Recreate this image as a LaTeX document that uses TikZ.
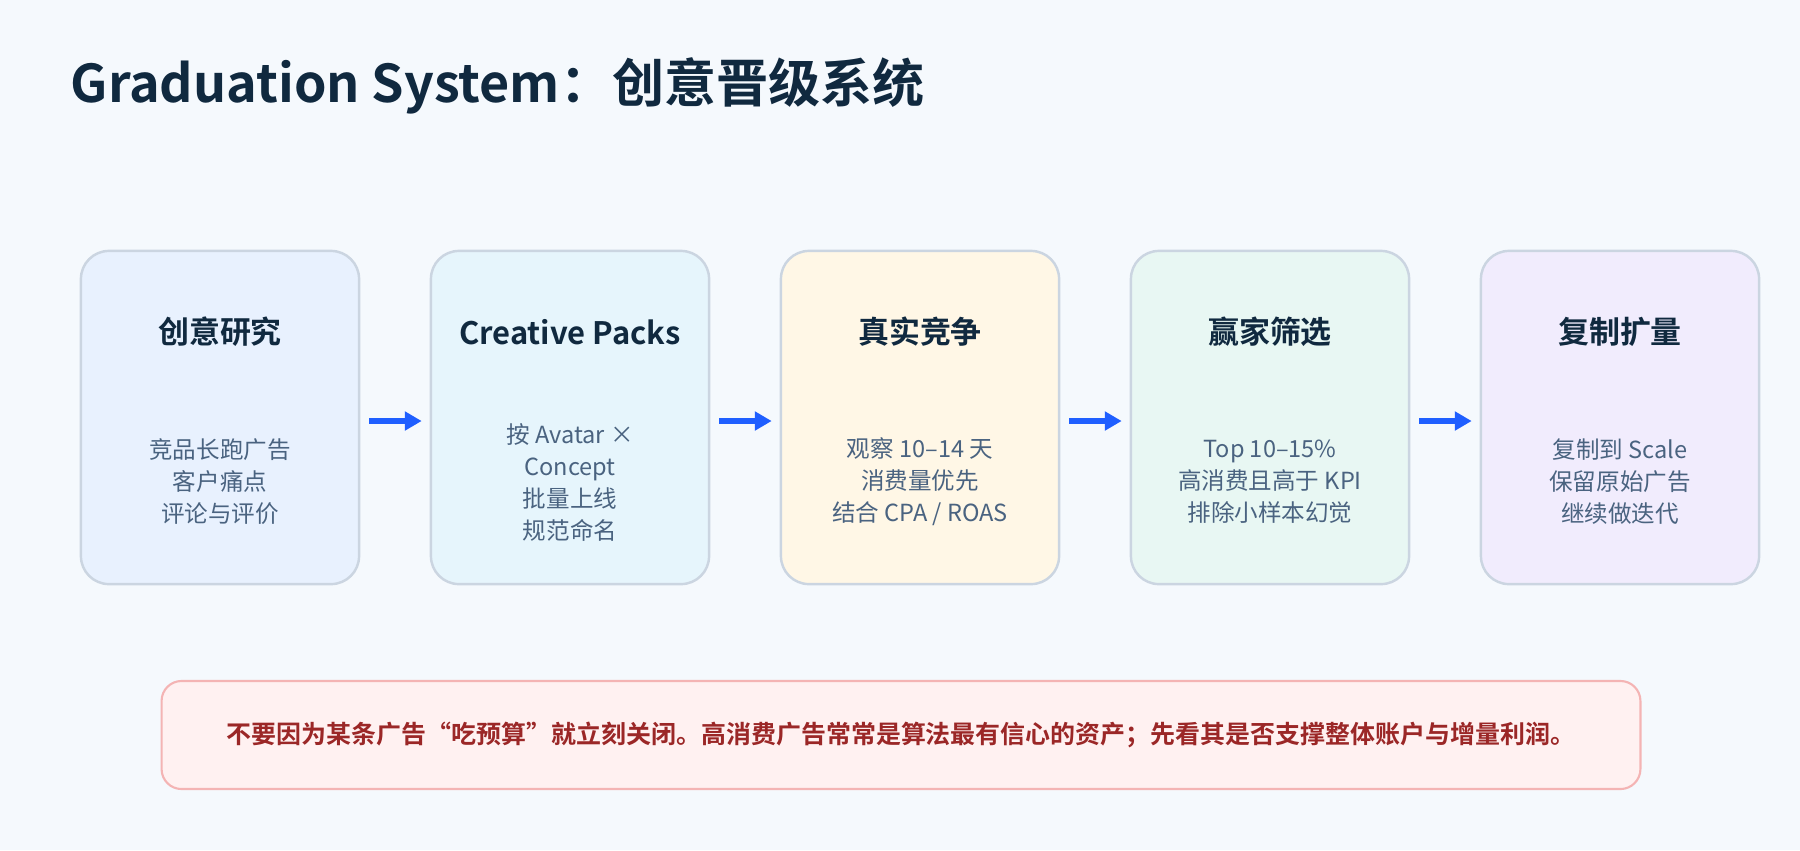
\documentclass[tikz,border=0pt]{standalone}
\usepackage{fontspec}
\setmainfont{Noto Sans CJK SC}[BoldFont={Noto Sans CJK SC Bold}]
\usetikzlibrary{arrows.meta, positioning, calc}
\definecolor{pagebg}{HTML}{F5F9FD}
\definecolor{inkdark}{HTML}{10293F}
\definecolor{inkbody}{HTML}{4A6380}
\definecolor{boxline}{HTML}{CBD5E1}
\definecolor{flowblue}{HTML}{1F5FFF}
\definecolor{fillresearch}{HTML}{E8F1FE}
\definecolor{fillpacks}{HTML}{E6F5FC}
\definecolor{fillcompete}{HTML}{FFF7E6}
\definecolor{fillwinner}{HTML}{E8F7F3}
\definecolor{fillscale}{HTML}{F1ECFD}
\definecolor{notefill}{HTML}{FFF1F1}
\definecolor{noteline}{HTML}{F4B4B4}
\definecolor{notetext}{HTML}{9B2727}
\tikzset{
    step_box/.style={
        draw=boxline,
        line width=0.7pt,
        minimum width=2.78cm,
        minimum height=3.33cm,
        inner sep=0pt,
        rounded corners=0.28cm
    },
    step_head/.style={font=\bfseries\fontsize{8.8}{10.5}\selectfont, text=inkdark},
    step_body/.style={font=\fontsize{6.7}{9.1}\selectfont, text=inkbody, align=center},
    flow/.style={-{Triangle[length=4.8pt, width=5.2pt]}, draw=flowblue, line width=1.6pt,
        shorten <=0.09cm, shorten >=0.08cm},
    note_box/.style={draw=noteline, fill=notefill, line width=0.6pt, rounded corners=0.2cm,
        minimum width=14.78cm, minimum height=1.08cm, inner sep=0pt,
        font=\bfseries\fontsize{7.1}{9}\selectfont, text=notetext}
}

\begin{document}
\begin{tikzpicture}[x=0.01cm, y=0.01cm]
    \fill[pagebg] (0,0) rectangle (1800,850);
    \useasboundingbox (0,0) rectangle (1800,850);

    % Title
    \node[anchor=base west, inner sep=0pt, font=\bfseries\fontsize{14.8}{18}\selectfont, text=inkdark]
        (title) at (70,748) {Graduation System：创意晋级系统};

    % Step 1 : research
    \node[step_box, fill=fillresearch] (research) at (220,432.5) {};
    \node[step_head] (research_head) at (220,518) {创意研究};
    \node[step_body] (research_body) at (220,368) {竞品长跑广告\\客户痛点\\评论与评价};

    % Step 2 : creative packs
    \node[step_box, fill=fillpacks] (packs) at (570,432.5) {};
    \node[step_head] (packs_head) at (570,518) {Creative Packs};
    \node[step_body] (packs_body) at (570,368) {按 Avatar ×\\Concept\\批量上线\\规范命名};

    % Step 3 : competition
    \node[step_box, fill=fillcompete] (compete) at (920,432.5) {};
    \node[step_head] (compete_head) at (920,518) {真实竞争};
    \node[step_body] (compete_body) at (920,368) {观察 10–14 天\\消费量优先\\结合 CPA / ROAS};

    % Step 4 : winners
    \node[step_box, fill=fillwinner] (winner) at (1270,432.5) {};
    \node[step_head] (winner_head) at (1270,518) {赢家筛选};
    \node[step_body] (winner_body) at (1270,368) {Top 10–15\%\\高消费且高于 KPI\\排除小样本幻觉};

    % Step 5 : scale
    \node[step_box, fill=fillscale] (scale) at (1620,432.5) {};
    \node[step_head] (scale_head) at (1620,518) {复制扩量};
    \node[step_body] (scale_body) at (1620,368) {复制到 Scale\\保留原始广告\\继续做迭代};

    % Arrows
    \draw[flow] ([yshift=-0.035cm]research.east) -- ([yshift=-0.035cm]packs.west);
    \draw[flow] ([yshift=-0.035cm]packs.east) -- ([yshift=-0.035cm]compete.west);
    \draw[flow] ([yshift=-0.035cm]compete.east) -- ([yshift=-0.035cm]winner.west);
    \draw[flow] ([yshift=-0.035cm]winner.east) -- ([yshift=-0.035cm]scale.west);

    % Warning note
    \node[note_box] (note) at (901,115)
        {不要因为某条广告“吃预算”就立刻关闭。高消费广告常常是算法最有信心的资产；先看其是否支撑整体账户与增量利润。};
\end{tikzpicture}
\end{document}
